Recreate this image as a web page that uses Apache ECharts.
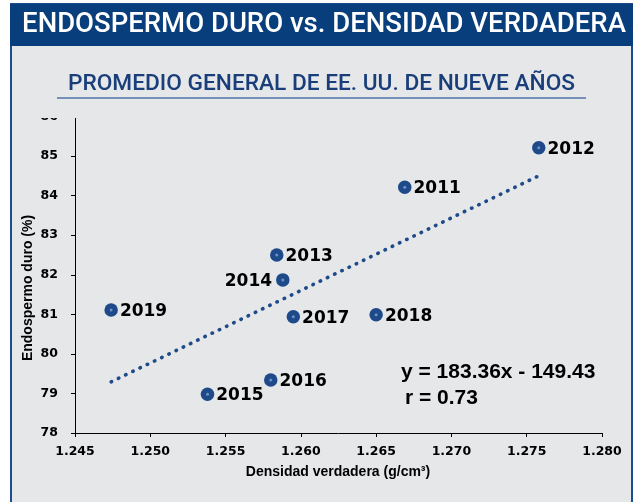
<!DOCTYPE html>
<html>
<head>
<meta charset="utf-8">
<script src="https://cdn.jsdelivr.net/npm/echarts@6/dist/echarts.min.js"></script>
<style>
  html, body { margin: 0; padding: 0; background: #ffffff; }
  #chart { width: 636px; height: 502px; }
</style>
</head>
<body>
<div id="chart"></div>
<script>
// Harvest years and their nine-year averages
const years = ['2011', '2012', '2013', '2014', '2015', '2016', '2017', '2018', '2019'];
const density = [1.2669, 1.2758, 1.2584, 1.2588, 1.2538, 1.2580, 1.2595, 1.2650, 1.2474];
const hardEndosperm = [84.21, 85.21, 82.50, 81.87, 78.98, 79.34, 80.94, 80.99, 81.11];

// Linear fit as stated on the chart
const slope = 183.36;
const intercept = -149.43;
const rValue = 0.73;

// Axis ranges / ticks
const xTicks = { min: 1.245, max: 1.280, step: 0.005 };
const yTicks = { min: 78, max: 86, step: 1 };

const labelLeftYears = ['2014'];

const points = years.map((y, i) => ({
  value: [density[i], hardEndosperm[i], y],
  label: labelLeftYears.includes(y) ? { position: 'left', distance: 4 } : undefined
}));

const xMinData = Math.min(...density);
const xMaxData = Math.max(...density);
const trend = [xMinData, xMaxData].map(x => [x, slope * x + intercept]);

const BLUE = '#1F4A8A';
const TICK_FONT = 'DejaVu Sans';
const chart = echarts.init(document.getElementById('chart'), null, { renderer: 'canvas' });

chart.setOption({
  animation: false,
  backgroundColor: '#ffffff',
  grid: { left: 75, right: 34, top: 116.5, bottom: 69, containLabel: false },
  xAxis: {
    type: 'value',
    min: xTicks.min, max: xTicks.max, interval: xTicks.step,
    axisLine: { show: true, onZero: false, lineStyle: { color: '#000', width: 1 } },
    axisTick: { show: true, length: 4, lineStyle: { color: '#000' } },
    axisLabel: {
      margin: 12, color: '#000', fontFamily: TICK_FONT, fontWeight: 'bold', fontSize: 12.5,
      formatter: v => v.toFixed(3)
    },
    splitLine: { show: false }
  },
  yAxis: {
    type: 'value',
    min: yTicks.min, max: yTicks.max, interval: yTicks.step,
    axisLine: { show: true, onZero: false, lineStyle: { color: '#000', width: 1 } },
    axisTick: { show: true, length: 4, lineStyle: { color: '#000' } },
    axisLabel: {
      margin: 17, color: '#000', fontFamily: TICK_FONT, fontWeight: 'bold', fontSize: 12.5
    },
    splitLine: { show: false }
  },
  series: [
    {
      type: 'line',
      data: trend,
      symbol: 'none',
      lineStyle: { color: BLUE, width: 3.6, type: [0.5, 7.5], cap: 'round' },
      z: 1,
      silent: true
    },
    {
      type: 'scatter',
      data: points,
      symbol: 'circle',
      symbolSize: 13.5,
      itemStyle: { color: BLUE, opacity: 1 },
      label: {
        show: true,
        position: 'right',
        distance: 2,
        offset: [0, 1.5],
        formatter: p => p.value[2],
        color: '#000',
        fontFamily: TICK_FONT,
        fontWeight: 'bold',
        fontSize: 17
      },
      z: 3
    },
    {
      type: 'scatter',
      data: years.map((y, i) => [density[i], hardEndosperm[i]]),
      symbol: 'circle',
      symbolSize: 3,
      itemStyle: { color: '#7EA2D6' },
      silent: true,
      z: 4
    }
  ],
  graphic: [
    // panel frame and background
    {
      type: 'rect', z: -100, silent: true,
      shape: { x: 11, y: 4, width: 621, height: 520 },
      style: { fill: '#E6E7E9', stroke: '#1B4C90', lineWidth: 2 }
    },
    // header band
    {
      type: 'rect', z: -99, silent: true,
      shape: { x: 10, y: 4, width: 623, height: 42 },
      style: { fill: '#083E7C' }
    },
    {
      type: 'text', z: 10, silent: true,
      style: {
        x: 324, y: 25.5, text: 'ENDOSPERMO DURO vs. DENSIDAD VERDADERA',
        fill: '#ffffff', font: '500 27.5px Roboto', align: 'center', verticalAlign: 'middle'
      }
    },
    // strip above the plot area
    {
      type: 'rect', z: 100, silent: true,
      shape: { x: 12, y: 46, width: 619, height: 72 },
      style: { fill: '#E6E7E9' }
    },
    {
      type: 'text', z: 101, silent: true,
      style: {
        x: 321.5, y: 84, text: 'PROMEDIO GENERAL DE EE. UU. DE NUEVE AÑOS',
        fill: '#1A3E7A', font: '500 22.7px Roboto', align: 'center', verticalAlign: 'middle'
      }
    },
    {
      type: 'line', z: 101, silent: true,
      shape: { x1: 57, y1: 98, x2: 586, y2: 98 },
      style: { stroke: '#4F74A6', lineWidth: 1.5 }
    },
    // axis titles
    {
      type: 'text', z: 10, silent: true,
      rotation: Math.PI / 2, x: 28, y: 288,
      style: {
        x: 0, y: 0, text: 'Endospermo duro (%)',
        fill: '#000', font: 'bold 14px "Liberation Sans"', align: 'center', verticalAlign: 'middle'
      }
    },
    {
      type: 'text', z: 10, silent: true,
      style: {
        x: 338, y: 472, text: 'Densidad verdadera (g/cm³)',
        fill: '#000', font: 'bold 14px "Liberation Sans"', align: 'center', verticalAlign: 'middle'
      }
    },
    // fit annotation
    {
      type: 'text', z: 10, silent: true,
      style: {
        x: 401, y: 372.5,
        text: 'y = ' + slope.toFixed(2) + 'x - ' + Math.abs(intercept).toFixed(2),
        fill: '#000', font: 'bold 21px "Liberation Sans"', align: 'left', verticalAlign: 'middle'
      }
    },
    {
      type: 'text', z: 10, silent: true,
      style: {
        x: 405, y: 398, text: 'r = ' + rValue.toFixed(2),
        fill: '#000', font: 'bold 21px "Liberation Sans"', align: 'left', verticalAlign: 'middle'
      }
    }
  ]
});
</script>
</body>
</html>
